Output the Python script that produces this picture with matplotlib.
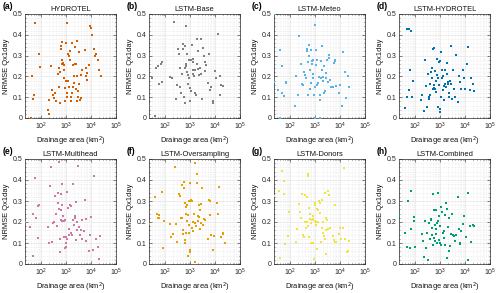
import matplotlib
matplotlib.use("Agg")
import matplotlib.pyplot as plt
from matplotlib.ticker import LogLocator, MultipleLocator, FuncFormatter, NullFormatter

plt.rcParams['font.family'] = ['Liberation Sans', 'DejaVu Sans']

# ---------------- data (drainage area km2, NRMSE Qx1day) ----------------
area_a = [40, 58, 44, 45, 51, 83, 91, 180, 200, 210, 245, 280, 300, 320, 370, 400,
          480, 500, 520, 550, 575, 600, 630, 660, 680, 690, 720, 760, 800, 830, 850, 890,
          910, 950, 1000, 1050, 1100, 1120, 1150, 1200, 1260, 1320, 1380, 1450, 1510, 1580,
          1660, 1740, 1820, 1900, 2000, 2090, 2240, 2290, 2400, 2510, 2630, 2690, 2750, 2880,
          3020, 3160, 3310, 3550, 3800, 3980, 4170, 5620, 6030, 6310, 6610, 7080, 7940, 8910,
          9550, 11200, 12600, 14100, 15800, 19000, 20900, 24000]
nrmse_a = [0.00, 0.455, 0.20, 0.09, 0.11, 0.31, 0.247, 0.04, 0.087, 0.02, 0.25, 0.135, 0.11, 0.095, 0.12, 0.08,
           0.21, 0.24, 0.15, 0.07, 0.22, 0.345, 0.33, 0.365, 0.26, 0.28, 0.265, 0.26, 0.19, 0.23, 0.255, 0.145,
           0.08, 0.36, 0.18, 0.12, 0.10, 0.455, 0.31, 0.18, 0.15, 0.30, 0.32, 0.28, 0.08, 0.10,
           0.12, 0.36, 0.15, 0.255, 0.20, 0.17, 0.26, 0.34, 0.14, 0.26, 0.20, 0.37, 0.08, 0.13,
           0.10, 0.165, 0.315, 0.085, 0.095, 0.205, 0.23, 0.325, 0.20, 0.24, 0.215, 0.185, 0.255, 0.44,
           0.435, 0.40, 0.33, 0.30, 0.31, 0.28, 0.23, 0.20]

area_b = [22, 28, 40, 42, 50, 55, 65, 70, 75, 160, 180, 220, 260, 300, 330, 350, 380, 400, 420, 450,
          500, 520, 550, 600, 620, 650, 680, 700, 720, 760, 800, 850, 900, 950, 1000, 1050, 1100, 1150,
          1200, 1250, 1300, 1350, 1400, 1500, 1600, 1700, 1800, 1900, 2000, 2200, 2400, 2600, 2800, 3000,
          3200, 3500, 4000, 4300, 5000, 5500, 6000, 7000, 8000, 8500, 10000, 11000, 13000, 15000, 18000,
          20000, 16000, 2100, 900, 1300, 600, 3800]
nrmse_b = [0.06, 0.19, 0.01, 0.24, 0.25, 0.165, 0.26, 0.27, 0.175, 0.195, 0.19, 0.46, 0.09, 0.16, 0.33, 0.31,
           0.24, 0.15, 0.12, 0.21, 0.355, 0.33, 0.10, 0.07, 0.345, 0.44, 0.26, 0.25, 0.22, 0.31, 0.165, 0.205,
           0.19, 0.145, 0.08, 0.13, 0.28, 0.35, 0.35, 0.285, 0.27, 0.21, 0.20, 0.23, 0.12, 0.11, 0.26, 0.38,
           0.235, 0.205, 0.24, 0.38, 0.21, 0.09, 0.335, 0.30, 0.225, 0.255, 0.17, 0.31, 0.135, 0.15, 0.07,
           0.08, 0.225, 0.19, 0.405, 0.11, 0.16, 0.155, 0.20, 0.32, 0.28, 0.23, 0.24, 0.27]

area_c = [22, 25, 33, 38, 40, 45, 48, 55, 65, 68, 150, 170, 200, 220, 260, 300, 320, 350, 380, 420,
          450, 480, 500, 520, 560, 580, 600, 650, 700, 720, 760, 800, 850, 900, 950, 1000, 1000, 1050,
          1100, 1150, 1200, 1300, 1400, 1500, 1500, 1600, 1700, 1800, 1900, 2000, 2100, 2300, 2500, 2600,
          2800, 3000, 3200, 3500, 3700, 4000, 4500, 5000, 5500, 6000, 6500, 7000, 9000, 10000, 12000,
          13000, 16000, 18000, 20000, 22000, 1700, 2200, 800, 600]
nrmse_c = [0.175, 0.50, 0.135, 0.0, 0.325, 0.12, 0.25, 0.105, 0.17, 0.175, 0.06, 0.20, 0.11, 0.395, 0.26,
           0.165, 0.16, 0.22, 0.205, 0.19, 0.33, 0.32, 0.27, 0.11, 0.35, 0.30, 0.23, 0.17, 0.325, 0.26,
           0.275, 0.28, 0.21, 0.11, 0.15, 0.445, 0.0, 0.325, 0.255, 0.16, 0.28, 0.17, 0.195, 0.085, 0.0,
           0.11, 0.275, 0.23, 0.345, 0.195, 0.18, 0.25, 0.13, 0.19, 0.215, 0.28, 0.175, 0.29, 0.305,
           0.185, 0.15, 0.15, 0.265, 0.28, 0.275, 0.155, 0.12, 0.16, 0.06, 0.315, 0.22, 0.095, 0.20,
           0.15, 0.19, 0.12, 0.19, 0.14]

area_d = [38, 45, 48, 55, 58, 60, 65, 70, 80, 170, 190, 220, 240, 260, 300, 310, 340, 360, 380, 400,
          420, 450, 470, 500, 520, 540, 560, 600, 620, 650, 700, 720, 760, 800, 850, 880, 900, 950, 1000,
          1000, 1050, 1100, 1150, 1200, 1250, 1300, 1400, 1500, 1600, 1700, 1800, 1900, 2000, 2100, 2200,
          2300, 2500, 2700, 2800, 3000, 3300, 3600, 4000, 4500, 5000, 5500, 6000, 7000, 8000, 10000,
          12000, 13000, 15000, 18000, 20000, 22000, 9000, 1400, 550]
nrmse_d = [0.05, 0.43, 0.10, 0.135, 0.43, 0.23, 0.42, 0.10, 0.18, 0.085, 0.11, 0.035, 0.28, 0.155, 0.055,
           0.21, 0.10, 0.09, 0.11, 0.165, 0.22, 0.24, 0.19, 0.14, 0.33, 0.335, 0.145, 0.225, 0.14, 0.18,
           0.125, 0.285, 0.205, 0.19, 0.055, 0.16, 0.27, 0.045, 0.03, 0.275, 0.10, 0.315, 0.23, 0.19,
           0.135, 0.20, 0.085, 0.23, 0.165, 0.15, 0.265, 0.21, 0.175, 0.165, 0.12, 0.10, 0.18, 0.345,
           0.165, 0.09, 0.23, 0.14, 0.10, 0.305, 0.075, 0.20, 0.175, 0.14, 0.23, 0.14, 0.26, 0.34, 0.135,
           0.19, 0.165, 0.13, 0.19, 0.155, 0.16]

area_e = [22, 35, 45, 48, 55, 60, 70, 75, 80, 190, 200, 230, 250, 280, 300, 320, 350, 400, 430, 450,
          480, 500, 520, 540, 560, 600, 620, 660, 700, 720, 800, 850, 900, 950, 1000, 1000, 1050, 1100,
          1200, 1300, 1400, 1500, 1600, 1700, 1800, 1900, 2000, 2200, 2400, 2500, 2600, 2800, 3000, 3200,
          3500, 3800, 4200, 4500, 5000, 5500, 6000, 6500, 8000, 9000, 10000, 12000, 13000, 15000, 19000,
          20000, 22000, 2300, 1300, 900, 700, 600]
nrmse_e = [0.20, 0.175, 0.04, 0.24, 0.41, 0.22, 0.125, 0.275, 0.28, 0.175, 0.10, 0.37, 0.46, 0.105, 0.195,
           0.20, 0.325, 0.24, 0.18, 0.34, 0.29, 0.485, 0.26, 0.12, 0.055, 0.335, 0.21, 0.38, 0.205, 0.23,
           0.205, 0.13, 0.21, 0.13, 0.08, 0.10, 0.345, 0.12, 0.265, 0.165, 0.28, 0.15, 0.275, 0.14, 0.38,
           0.21, 0.185, 0.23, 0.115, 0.295, 0.16, 0.20, 0.465, 0.175, 0.14, 0.16, 0.12, 0.21, 0.155,
           0.305, 0.215, 0.11, 0.06, 0.14, 0.225, 0.065, 0.42, 0.12, 0.08, 0.025, 0.135, 0.22, 0.14,
           0.075, 0.28, 0.255]

area_f = [22, 38, 45, 50, 55, 58, 75, 80, 85, 150, 170, 200, 250, 280, 300, 350, 380, 420, 450, 480,
          500, 520, 550, 580, 600, 620, 650, 680, 700, 730, 760, 800, 820, 860, 900, 950, 1000, 1000,
          1050, 1100, 1150, 1200, 1300, 1400, 1500, 1500, 1600, 1700, 1800, 1900, 2000, 2100, 2200, 2300,
          2400, 2500, 2700, 3000, 3200, 3500, 4000, 5000, 5500, 6000, 6500, 7000, 8000, 9000, 12000,
          13000, 14000, 18000, 20000, 21000, 24000, 1300, 900, 600, 2800]
nrmse_f = [0.19, 0.32, 0.24, 0.22, 0.235, 0.22, 0.345, 0.075, 0.205, 0.19, 0.13, 0.145, 0.46, 0.19, 0.105,
           0.335, 0.325, 0.22, 0.375, 0.22, 0.145, 0.16, 0.39, 0.36, 0.29, 0.115, 0.27, 0.24, 0.15, 0.28,
           0.205, 0.04, 0.235, 0.15, 0.30, 0.055, 0.065, 0.385, 0.305, 0.30, 0.30, 0.17, 0.155, 0.24, 0.01,
           0.48, 0.195, 0.18, 0.385, 0.43, 0.205, 0.23, 0.28, 0.225, 0.255, 0.165, 0.195, 0.36, 0.185,
           0.215, 0.21, 0.12, 0.305, 0.30, 0.235, 0.14, 0.065, 0.135, 0.29, 0.24, 0.365, 0.13, 0.15,
           0.145, 0.10, 0.20, 0.185, 0.10, 0.285]

area_g = [22, 35, 40, 45, 55, 55, 60, 80, 90, 170, 180, 220, 240, 270, 300, 330, 350, 380, 400, 420,
          450, 470, 500, 510, 530, 560, 580, 600, 620, 650, 700, 750, 800, 850, 900, 950, 1000, 1000,
          1050, 1100, 1150, 1200, 1300, 1400, 1500, 1600, 1700, 1800, 1900, 2000, 2200, 2400, 2500, 2600,
          2700, 2800, 3000, 3200, 3400, 3600, 4000, 5000, 5500, 6000, 6500, 7000, 9000, 10000, 11000,
          13000, 14000, 16000, 19000, 20000, 23000, 1250, 800, 2000]
nrmse_g = [0.325, 0.35, 0.03, 0.445, 0.395, 0.335, 0.095, 0.135, 0.25, 0.105, 0.165, 0.285, 0.25, 0.22,
           0.335, 0.14, 0.13, 0.20, 0.33, 0.17, 0.20, 0.32, 0.43, 0.42, 0.18, 0.13, 0.265, 0.24, 0.215,
           0.195, 0.10, 0.21, 0.215, 0.10, 0.025, 0.29, 0.28, 0.205, 0.20, 0.185, 0.26, 0.07, 0.255, 0.30,
           0.29, 0.245, 0.105, 0.305, 0.17, 0.20, 0.135, 0.12, 0.34, 0.05, 0.22, 0.16, 0.21, 0.35, 0.165,
           0.33, 0.17, 0.135, 0.115, 0.28, 0.105, 0.105, 0.145, 0.17, 0.12, 0.17, 0.455, 0.12, 0.055,
           0.06, 0.11, 0.20, 0.23, 0.15]

area_h = [22, 40, 48, 50, 60, 65, 65, 85, 90, 95, 180, 200, 230, 250, 280, 300, 330, 350, 380, 420,
          440, 460, 480, 500, 520, 540, 560, 600, 620, 650, 700, 720, 760, 800, 850, 880, 900, 950, 1000,
          1050, 1100, 1200, 1300, 1400, 1500, 1600, 1700, 1800, 1900, 2000, 2200, 2300, 2500, 2700, 3000,
          3200, 3500, 4000, 4500, 5000, 5500, 6000, 6500, 7000, 8000, 9000, 11000, 13000, 13500, 16000,
          18000, 20000, 22000, 1400, 700]
nrmse_h = [0.235, 0.15, 0.08, 0.30, 0.075, 0.35, 0.165, 0.205, 0.225, 0.08, 0.145, 0.11, 0.035, 0.205,
           0.075, 0.15, 0.02, 0.195, 0.12, 0.215, 0.21, 0.14, 0.17, 0.09, 0.335, 0.255, 0.125, 0.185, 0.11,
           0.255, 0.165, 0.10, 0.195, 0.34, 0.205, 0.115, 0.23, 0.10, 0.18, 0.27, 0.09, 0.25, 0.15, 0.125,
           0.09, 0.235, 0.29, 0.03, 0.26, 0.175, 0.06, 0.22, 0.085, 0.145, 0.24, 0.14, 0.135, 0.11, 0.14,
           0.32, 0.165, 0.095, 0.10, 0.155, 0.19, 0.23, 0.13, 0.02, 0.34, 0.18, 0.105, 0.185, 0.18, 0.155,
           0.145]

panel_letters = ['(a)', '(b)', '(c)', '(d)', '(e)', '(f)', '(g)', '(h)']
titles = ['HYDROTEL', 'LSTM-Base', 'LSTM-Meteo', 'LSTM-HYDROTEL',
          'LSTM-Multihead', 'LSTM-Oversampling', 'LSTM-Donors', 'LSTM-Combined']
colors = ['#D55E00', '#808080', '#56B4E9', '#0072B2',
          '#CC79A7', '#E69F00', '#F0E442', '#009E73']
areas = [area_a, area_b, area_c, area_d, area_e, area_f, area_g, area_h]
values = [nrmse_a, nrmse_b, nrmse_c, nrmse_d, nrmse_e, nrmse_f, nrmse_g, nrmse_h]

# ---------------- figure ----------------
W, H = 500, 293
fig = plt.figure(figsize=(W / 100, H / 100), dpi=100)

lefts_px = [25, 149, 274, 399]
width_px = 91
rows_px = [(14, 118), (159, 264)]

axcol = '#262626'
for i in range(8):
    r, c = divmod(i, 4)
    top, bot = rows_px[r]
    ax = fig.add_axes([lefts_px[c] / W, 1 - bot / H, width_px / W, (bot - top) / H])
    ax.scatter(areas[i], values[i], s=3.2, marker='s', color=colors[i], linewidths=0, zorder=3)
    ax.set_xscale('log')
    ax.set_xlim(22, 1e5)
    ax.set_ylim(0, 0.5)
    ax.xaxis.set_major_locator(LogLocator(base=10, numticks=10))
    ax.xaxis.set_minor_locator(LogLocator(base=10, subs=range(2, 10), numticks=20))
    ax.xaxis.set_minor_formatter(NullFormatter())
    ax.yaxis.set_major_locator(MultipleLocator(0.1))
    ax.yaxis.set_minor_locator(MultipleLocator(0.02))
    ax.yaxis.set_major_formatter(FuncFormatter(lambda v, _: f'{v:g}'))
    ax.grid(True, which='major', color='#e6e6e6', linewidth=0.5, zorder=0)
    ax.grid(True, which='minor', color='#dcdcdc', linewidth=0.4, linestyle=(0, (1, 2)), zorder=0)
    ax.set_axisbelow(True)
    for sp in ax.spines.values():
        sp.set_color(axcol)
        sp.set_linewidth(0.5)
    ax.tick_params(which='both', direction='in', colors=axcol, labelsize=5.0,
                   top=True, right=True, width=0.4, pad=2)
    ax.tick_params(which='major', length=2)
    ax.tick_params(which='minor', length=1)
    ax.set_title(titles[i], fontsize=5.4, pad=2.5, color='#111111')
    ax.set_xlabel('Drainage area (km$^2$)', fontsize=5.4, labelpad=2, color='#111111')
    ax.set_ylabel('NRMSE Qx1day', fontsize=5.4, labelpad=2, color='#111111')
    ax.text(-0.25, 1.025, panel_letters[i], transform=ax.transAxes, fontsize=6.2,
            fontweight='bold', ha='left', va='bottom', color='black')

fig.savefig('out.png', dpi=100)
